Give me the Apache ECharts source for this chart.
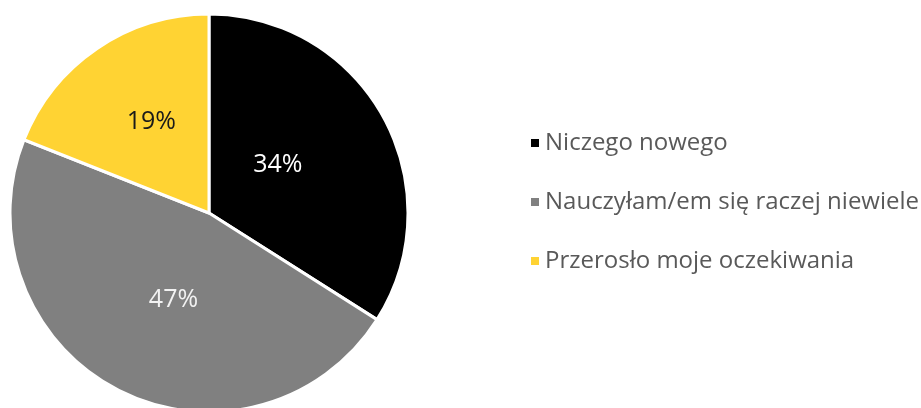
<!DOCTYPE html>
<html>
<head>
<meta charset="utf-8">
<script src="https://cdn.jsdelivr.net/npm/echarts@6/dist/echarts.min.js"></script>
<style>
html,body{margin:0;padding:0;background:#fff;}
#c{width:921px;height:408px;}
</style>
</head>
<body>
<div id="c"></div>
<script>
const categories = ['Niczego nowego', 'Nauczyłam/em się raczej niewiele', 'Przerosło moje oczekiwania'];
const values = [34, 47, 19];
const colors = ['#000000', '#808080', '#FFD333'];
const labelColors = ['#FFFFFF', '#F2F2F2', '#1a1a1a'];

const chart = echarts.init(document.getElementById('c'), null, {renderer: 'canvas'});
const labelShift = [[-21, 1], [11, -4], [0, -6]];
chart.setOption({
  animation: false,
  backgroundColor: '#ffffff',
  legend: {
    orient: 'vertical',
    left: 524,
    top: 124,
    itemWidth: 10,
    itemHeight: 10,
    itemGap: 31,
    icon: 'rect',
    textStyle: {
      fontFamily: 'Open Sans',
      fontSize: 24,
      color: '#595959',
      lineHeight: 28,
      padding: 0
    },
    data: categories
  },
  series: [{
    type: 'pie',
    center: [209, 213],
    radius: 199,
    startAngle: 90,
    clockwise: true,
    itemStyle: { borderColor: '#ffffff', borderWidth: 3 },
    label: {
      show: true,
      position: 'inside',
      formatter: '{c}%',
      fontFamily: 'Open Sans',
      fontSize: 25
    },
    labelLine: { show: false },
    emphasis: { disabled: true },
    data: categories.map((n, i) => ({
      name: n,
      value: values[i],
      itemStyle: { color: colors[i] },
      label: { color: labelColors[i], offset: labelShift[i] }
    }))
  }]
});
</script>
</body>
</html>
